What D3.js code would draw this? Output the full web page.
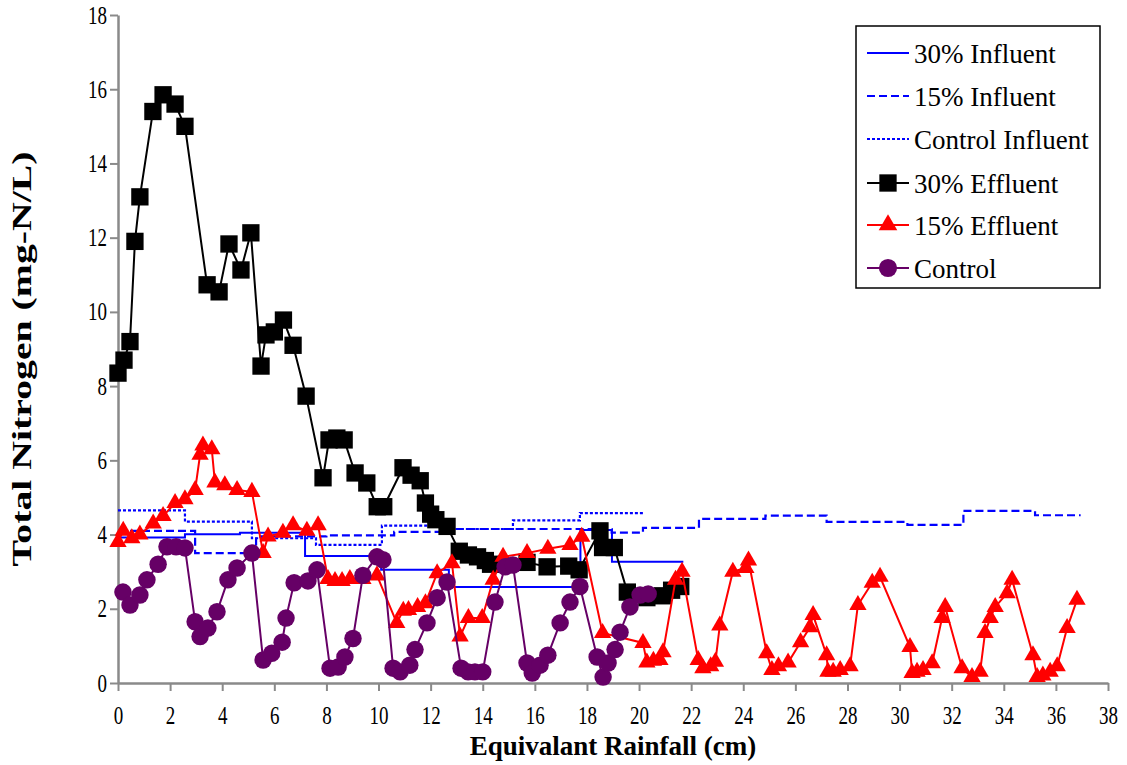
<!DOCTYPE html>
<html>
<head>
<meta charset="utf-8">
<script src="https://cdn.jsdelivr.net/npm/d3@7"></script>
<style>
  html, body { margin: 0; padding: 0; background: #fff; }
  svg { display: block; }
  text { font-family: "Liberation Serif", "Times New Roman", serif; }
</style>
</head>
<body>
<svg id="chart" width="1127" height="765"></svg>
<script>
// Axis ticks
const xTicks = d3.range(0, 39, 2);
const yTicks = d3.range(0, 19, 2);

// Influent concentrations (step series: value holds from x until next x)
const inf30X = [0, 2.57, 4.68, 7.18, 10.1, 12.7, 17.75, 18.96, 21.7];
const inf30Y = [3.92, 4.01, 4.05, 3.42, 3.05, 2.59, 4.12, 3.27, 3.27];

const inf15X = [0, 2.96, 5.3, 8.0, 10.6, 13.0, 18.95, 20.15, 22.3, 24.85, 27.2, 30.3, 32.45, 35.2, 36.95];
const inf15Y = [4.1, 3.5, 3.95, 3.98, 4.07, 4.15, 4.05, 4.18, 4.42, 4.51, 4.34, 4.26, 4.64, 4.52, 4.52];

const infCtlX = [0, 2.57, 5.14, 7.6, 10.13, 12.8, 15.16, 17.73, 20.2];
const infCtlY = [4.65, 4.35, 3.9, 3.72, 4.24, 4.15, 4.38, 4.58, 4.58];

// 30% Effluent
const eff30X = [0, 0.23, 0.46, 0.65, 0.84, 1.34, 1.73, 2.19, 2.57, 3.42, 3.88, 4.26, 4.72, 5.1,
  5.49, 5.68, 6.0, 6.35, 6.72, 7.22, 7.87, 8.1, 8.4, 8.68, 9.1, 9.55, 9.95, 10.2, 10.94, 11.25,
  11.6, 11.8, 12.0, 12.2, 12.63, 13.1, 13.45, 13.8, 14.1, 14.3, 15.7, 16.47, 17.3, 17.7, 18.5,
  18.6, 19.05, 19.55, 20.3, 20.9, 21.25, 21.6];
const eff30Y = [8.35, 8.7, 9.2, 11.9, 13.1, 15.4, 15.85, 15.6, 15.0, 10.73, 10.54, 11.83, 11.13, 12.13,
  8.54, 9.38, 9.46, 9.78, 9.1, 7.73, 5.53, 6.55, 6.6, 6.55, 5.66, 5.39, 4.75, 4.75, 5.8, 5.6,
  5.45, 4.85, 4.55, 4.4, 4.22, 3.55, 3.45, 3.4, 3.3, 3.2, 3.25, 3.13, 3.15, 3.05, 4.1,
  3.65, 3.65, 2.45, 2.3, 2.35, 2.5, 2.6];

// 15% Effluent
const eff15X = [0, 0.2, 0.53, 0.84, 1.35, 1.73, 2.19, 2.57, 2.96, 3.15, 3.26, 3.6, 3.72, 4.1, 4.57,
  5.14, 5.57, 5.76, 6.33, 6.72, 7.25, 7.68, 8.06, 8.33, 8.6, 8.9, 9.4, 9.94, 10.7, 10.95, 11.15,
  11.5, 11.8, 12.25, 12.82, 13.13, 13.45, 13.98, 14.4, 14.78, 15.7, 16.5, 17.35, 17.8, 18.6,
  20.15, 20.3, 20.55, 20.8, 20.92, 21.4, 21.65, 22.27, 22.45, 22.75, 22.93, 23.1, 23.6, 24.1,
  24.2, 24.9, 25.1, 25.35, 25.72, 26.2, 26.56, 26.68, 27.2, 27.25, 27.45, 27.72, 28.1, 28.4,
  28.95, 29.25, 30.4, 30.48, 30.67, 30.9, 31.25, 31.63, 31.75, 32.4, 32.78, 33.09, 33.28, 33.48,
  33.67, 34.13, 34.32, 35.12, 35.28, 35.5, 35.78, 36.05, 36.43, 36.81];
const eff15Y = [3.8, 4.1, 3.9, 4.0, 4.3, 4.5, 4.85, 4.95, 5.2, 6.15, 6.4, 6.3, 5.4, 5.33, 5.2,
  5.15, 3.5, 3.95, 4.05, 4.25, 4.1, 4.25, 2.8, 2.75, 2.75, 2.8, 2.8, 2.9, 1.62, 1.95, 1.97,
  2.05, 2.15, 2.96, 3.23, 1.25, 1.75, 1.75, 2.78, 3.4, 3.5, 3.62, 3.72, 3.94, 1.35,
  1.08, 0.55, 0.6, 0.62, 0.83, 2.78, 3.0, 0.62, 0.4, 0.45, 0.57, 1.55, 3.0, 3.1,
  3.3, 0.8, 0.35, 0.45, 0.55, 1.1, 1.5, 1.83, 0.75, 0.3, 0.3, 0.35, 0.45, 2.1,
  2.7, 2.86, 0.97, 0.27, 0.3, 0.35, 0.53, 1.75, 2.05, 0.4, 0.16, 0.3, 1.35, 1.75,
  2.05, 2.42, 2.78, 0.75, 0.16, 0.2, 0.3, 0.45, 1.48, 2.24];

// Control
const ctlX = [0.19, 0.46, 0.84, 1.11, 1.54, 1.88, 2.23, 2.57, 2.96, 3.15, 3.45, 3.8, 4.22, 4.57, 5.14,
  5.57, 5.9, 6.3, 6.45, 6.76, 7.29, 7.64, 8.14, 8.45, 8.71, 9.02, 9.4, 9.94, 10.17, 10.56, 10.83,
  11.2, 11.4, 11.86, 12.25, 12.63, 13.17, 13.44, 13.7, 14.0, 14.47, 14.86, 15.16, 15.7, 15.9,
  16.2, 16.5, 16.97, 17.35, 17.73, 18.39, 18.62, 18.81, 19.08, 19.27, 19.65, 20.04, 20.35];
const ctlY = [2.45, 2.1, 2.37, 2.78, 3.2, 3.67, 3.67, 3.64, 1.65, 1.25, 1.48, 1.92, 2.78, 3.1, 3.5,
  0.62, 0.8, 1.1, 1.75, 2.7, 2.75, 3.05, 0.4, 0.43, 0.7, 1.2, 2.9, 3.4, 3.32, 0.4, 0.3,
  0.48, 0.9, 1.62, 2.3, 2.72, 0.4, 0.3, 0.3, 0.3, 2.18, 3.13, 3.18, 0.54, 0.27,
  0.48, 0.75, 1.62, 2.18, 2.6, 0.7, 0.16, 0.54, 0.9, 1.37, 2.05, 2.37, 2.4];

const legendNames = ["30% Influent", "15% Influent", "Control Influent", "30% Effluent", "15% Effluent", "Control"];

const svg = d3.select("#chart");
const x = d3.scaleLinear().domain([0, 38]).range([118, 1108]);
const y = d3.scaleLinear().domain([0, 18]).range([683, 15]);

const axisColor = "#8a8a8a";
const blue = "#0000ff", red = "#ff0000", purple = "#660066";
// tick digits are set condensed
const squeeze = 0.76;

// Axes
const gx = svg.append("g").attr("transform", `translate(0,${y(0)})`)
  .call(d3.axisBottom(x).tickValues(xTicks).tickSize(8).tickSizeOuter(0).tickPadding(15));
const gy = svg.append("g").attr("transform", `translate(${x(0)},0)`)
  .call(d3.axisLeft(y).tickValues(yTicks).tickSize(8).tickSizeOuter(0).tickPadding(3));
[gx, gy].forEach(g => {
  g.select(".domain").attr("stroke", axisColor).attr("stroke-width", 2.5);
  g.selectAll(".tick line").attr("stroke", axisColor).attr("stroke-width", 2);
  g.selectAll(".tick text").attr("fill", "#000").attr("font-size", 25)
    .attr("font-family", "Liberation Serif, serif");
});
gx.selectAll(".tick text").attr("transform", `scale(${squeeze},1)`);
gy.selectAll(".tick text").each(function () {
  const t = d3.select(this);
  t.attr("x", +t.attr("x") / squeeze).attr("transform", `scale(${squeeze},1)`);
});

// Axis titles
svg.append("text").attr("x", 613).attr("y", 755).attr("text-anchor", "middle")
  .attr("font-size", 27).attr("font-weight", "bold").text("Equivalant Rainfall (cm)");
svg.append("text").attr("transform", "translate(31,359) rotate(-90) scale(1.42,1)").attr("text-anchor", "middle")
  .attr("font-size", 28).attr("font-weight", "bold").text("Total Nitrogen (mg-N/L)");

// Step lines for influents
function stepLine(xs, ys) {
  return d3.line().x((d, i) => x(xs[i])).y((d, i) => y(ys[i])).curve(d3.curveStepAfter)(xs);
}
const plot = svg.append("g");
plot.append("path").attr("d", stepLine(inf30X, inf30Y)).attr("fill", "none")
  .attr("stroke", blue).attr("stroke-width", 2);
plot.append("path").attr("d", stepLine(inf15X, inf15Y)).attr("fill", "none")
  .attr("stroke", blue).attr("stroke-width", 2.2).attr("stroke-dasharray", "8,4");
plot.append("path").attr("d", stepLine(infCtlX, infCtlY)).attr("fill", "none")
  .attr("stroke", blue).attr("stroke-width", 2.2).attr("stroke-dasharray", "3,2");

// Effluent series
function polyline(xs, ys) {
  return d3.line().x((d, i) => x(xs[i])).y((d, i) => y(ys[i]))(xs);
}
function series(xs, ys, color, width, symbol, size) {
  const g = plot.append("g");
  g.append("path").attr("d", polyline(xs, ys)).attr("fill", "none")
    .attr("stroke", color).attr("stroke-width", width);
  g.selectAll("path.m").data(xs).join("path").attr("class", "m")
    .attr("transform", (d, i) => `translate(${x(xs[i])},${y(ys[i])})`)
    .attr("d", d3.symbol().type(symbol).size(size)())
    .attr("fill", color);
}
series(eff30X, eff30Y, "#000", 2, d3.symbolSquare, 300);
series(eff15X, eff15Y, red, 2, d3.symbolTriangle, 130);
series(ctlX, ctlY, purple, 2, d3.symbolCircle, 240);

// Legend
const lg = svg.append("g");
lg.append("rect").attr("x", 856).attr("y", 26).attr("width", 244).attr("height", 262)
  .attr("fill", "#fff").attr("stroke", "#000").attr("stroke-width", 1.5);
const rowY = [53, 96, 139, 183, 225, 268];
const styles = [
  {stroke: blue, dash: null},
  {stroke: blue, dash: "8,4"},
  {stroke: blue, dash: "3,2"},
  {stroke: "#000", dash: null, sym: d3.symbolSquare, fill: "#000", size: 300},
  {stroke: red, dash: null, sym: d3.symbolTriangle, fill: red, size: 150},
  {stroke: purple, dash: null, sym: d3.symbolCircle, fill: purple, size: 260}
];
legendNames.forEach((name, i) => {
  const s = styles[i];
  lg.append("line").attr("x1", 867).attr("x2", 909).attr("y1", rowY[i]).attr("y2", rowY[i])
    .attr("stroke", s.stroke).attr("stroke-width", 2).attr("stroke-dasharray", s.dash);
  if (s.sym) {
    lg.append("path").attr("transform", `translate(888,${rowY[i]})`)
      .attr("d", d3.symbol().type(s.sym).size(s.size)()).attr("fill", s.fill);
  }
  lg.append("text").attr("x", 914).attr("y", rowY[i] + 10).attr("font-size", 27).text(name);
});
</script>
</body>
</html>
